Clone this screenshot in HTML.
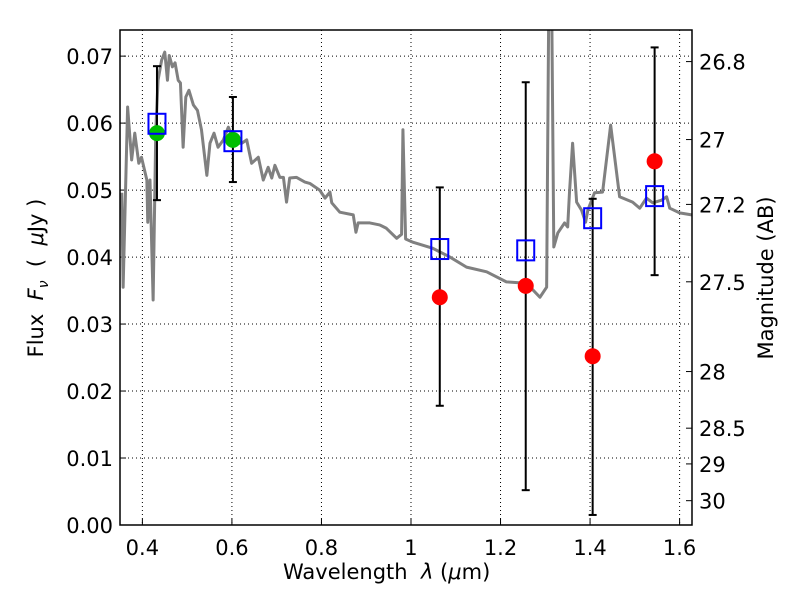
<!DOCTYPE html>
<html><head><meta charset="utf-8"><style>
body{margin:0;background:#fff}
svg{font-family:"DejaVu Sans","Liberation Sans",sans-serif}
</style></head><body>
<svg id="c" width="800" height="600" viewBox="0 0 800 600"></svg>
<script>
const specLam=[0.354,0.357,0.367,0.376,0.383,0.392,0.398,0.410,0.412,0.417,0.424,0.430,0.435,0.443,0.450,0.456,0.460,0.467,0.473,0.480,0.485,0.491,0.497,0.504,0.514,0.523,0.532,0.544,0.551,0.560,0.569,0.581,0.592,0.607,0.622,0.633,0.644,0.659,0.670,0.681,0.689,0.696,0.707,0.715,0.722,0.729,0.744,0.763,0.774,0.796,0.808,0.819,0.823,0.841,0.871,0.877,0.882,0.908,0.930,0.945,0.968,0.979,0.982,0.988,1.005,1.049,1.087,1.124,1.169,1.213,1.258,1.288,1.303,1.308,1.314,1.319,1.328,1.343,1.350,1.354,1.361,1.370,1.381,1.390,1.395,1.410,1.428,1.446,1.466,1.495,1.511,1.526,1.540,1.560,1.571,1.578,1.600,1.627];
const specFlux=[0.0496,0.0355,0.0624,0.0545,0.0585,0.0540,0.0549,0.0515,0.0452,0.0515,0.0336,0.0590,0.0664,0.0694,0.0706,0.0664,0.0701,0.0684,0.0690,0.0664,0.0660,0.0564,0.0639,0.0649,0.0627,0.0619,0.0590,0.0522,0.0570,0.0585,0.0564,0.0575,0.0594,0.0570,0.0570,0.0575,0.0540,0.0549,0.0515,0.0534,0.0518,0.0537,0.0519,0.0519,0.0482,0.0518,0.0519,0.0512,0.0510,0.0500,0.0488,0.0497,0.0481,0.0467,0.0463,0.0437,0.0451,0.0451,0.0448,0.0443,0.0428,0.0434,0.0590,0.0427,0.0422,0.0413,0.0400,0.0385,0.0378,0.0363,0.0361,0.0340,0.0355,0.0800,0.0800,0.0415,0.0436,0.0451,0.0445,0.0496,0.0570,0.0482,0.0470,0.0452,0.0470,0.0496,0.0497,0.0597,0.0490,0.0482,0.0473,0.0488,0.0481,0.0485,0.0490,0.0473,0.0466,0.0463];
const modelLam=[0.4326,0.6022,1.0643,1.2563,1.4058,1.5442];
const modelFlux=[0.0599,0.0573,0.0412,0.0410,0.0458,0.0491];
const greenLam=[0.4326,0.6022];
const greenFlux=[0.0585,0.0575];
const redLam=[1.0643,1.2563,1.4058,1.5442];
const redFlux=[0.0340,0.0357,0.0252,0.0543];
const errLam=[0.4326,0.6022,1.0643,1.2563,1.4058,1.5442];
const errLo=[0.0485,0.0512,0.0178,0.0052,0.0015,0.0373];
const errHi=[0.0685,0.0639,0.0504,0.0661,0.0487,0.0713];
const xTicks=[0.4,0.6,0.8,1.0,1.2,1.4,1.6];
const xTickLabels=["0.4","0.6","0.8","1","1.2","1.4","1.6"];
const yTicks=[0,0.01,0.02,0.03,0.04,0.05,0.06,0.07];
const yTickLabels=["0.00","0.01","0.02","0.03","0.04","0.05","0.06","0.07"];
const magTicks=[26.8,27,27.2,27.5,28,28.5,29,30];
const magLabels=["26.8","27","27.2","27.5","28","28.5","29","30"];

const L=120,R=692,T=30,B=525,X0=0.35,X1=1.6277,Y0=0,Y1=0.0739;
const sx=v=>L+(v-X0)/(X1-X0)*(R-L);
const sy=v=>B-(v-Y0)/(Y1-Y0)*(B-T);
const NS="http://www.w3.org/2000/svg";
const svg=document.getElementById('c');
function mk(tag,attrs,parent){const e=document.createElementNS(NS,tag);for(const k in attrs)e.setAttribute(k,attrs[k]);(parent||svg).appendChild(e);return e;}
const defs=mk('defs',{});
const cp=mk('clipPath',{id:'clip'},defs);
mk('rect',{x:L,y:T,width:R-L,height:B-T},cp);

xTicks.forEach((v,i)=>{
  const g=mk('line',{x1:sx(v),x2:sx(v),y1:T,y2:B,stroke:'#000','stroke-width':1,'stroke-dasharray':'1,3'});
  
  
  const t=mk('line',{x1:sx(v),x2:sx(v),y1:B,y2:B-6,stroke:'#000'});
  
  
  const lb=mk('text',{x:sx(v),y:B+30,'font-size':21,'text-anchor':'middle'});
  lb.textContent=xTickLabels[i];
  
  
});
yTicks.forEach((v,i)=>{
  const g=mk('line',{x1:L,x2:R,y1:sy(v),y2:sy(v),stroke:'#000','stroke-width':1,'stroke-dasharray':'1,3'});
  
  
  const t=mk('line',{x1:L,x2:L+6,y1:sy(v),y2:sy(v),stroke:'#000'});
  
  
  const lb=mk('text',{x:L-7,y:sy(v)+8,'font-size':21,'text-anchor':'end'});
  lb.textContent=yTickLabels[i];
  
  
});
magTicks.forEach((m,i)=>{
  const f=Math.pow(10,(23.9-m)/2.5);
  const t=mk('line',{x1:R,x2:R-6,y1:sy(f),y2:sy(f),stroke:'#000'});
  
  
  const lb=mk('text',{x:R+7,y:sy(f)+8,'font-size':21});
  lb.textContent=magLabels[i];
  
  
});

const plot=mk('g',{'clip-path':'url(#clip)'});


const sp=mk('polyline',{points:specLam.map((l,i)=>sx(l)+','+sy(specFlux[i])).join(' '),fill:'none',stroke:'#808080','stroke-width':3,'stroke-linejoin':'round'},plot);



errLam.forEach((l,i)=>{
  const g=mk('g',{stroke:'#000','stroke-width':2},plot);
  
  
  mk('line',{x1:sx(l),x2:sx(l),y1:sy(errLo[i]),y2:sy(errHi[i])},g);
  mk('line',{x1:sx(l)-4,x2:sx(l)+4,y1:sy(errLo[i]),y2:sy(errLo[i])},g);
  mk('line',{x1:sx(l)-4,x2:sx(l)+4,y1:sy(errHi[i]),y2:sy(errHi[i])},g);
});
greenLam.forEach((l,i)=>{
  const c=mk('circle',{cx:sx(l),cy:sy(greenFlux[i]),r:8,fill:'#00bf00'},plot);
  
  
});
redLam.forEach((l,i)=>{
  const c=mk('circle',{cx:sx(l),cy:sy(redFlux[i]),r:8,fill:'#ff0000'},plot);
  
  
});
modelLam.forEach((l,i)=>{
  const r=mk('rect',{x:sx(l)-8.5,y:sy(modelFlux[i])-10,width:17,height:20,fill:'none',stroke:'#0000ff','stroke-width':2},plot);
  
  
});

const fr=mk('rect',{x:L,y:T,width:R-L,height:B-T,fill:'none',stroke:'#000','stroke-width':1.5});


</script>
<div style="position:absolute;left:0;top:0;width:800px;height:600px;pointer-events:none;font-family:'DejaVu Sans','Liberation Sans',sans-serif">
<div style="position:absolute;left:283px;top:560px;font-size:21px;white-space:nowrap">Wavelength &nbsp;<i>λ</i> (<i>μ</i>m)</div>
<div style="position:absolute;left:38px;top:278px;font-size:21px;white-space:nowrap;transform:translate(-50%,-50%) rotate(-90deg)">Flux &nbsp;<i>F<sub style="font-size:14px">ν</sub></i> &nbsp;( &nbsp;<i>μ</i>Jy )</div>
<div style="position:absolute;left:766px;top:278px;font-size:21px;white-space:nowrap;transform:translate(-50%,-50%) rotate(-90deg)">Magnitude (AB)</div>
</div>
</body></html>
